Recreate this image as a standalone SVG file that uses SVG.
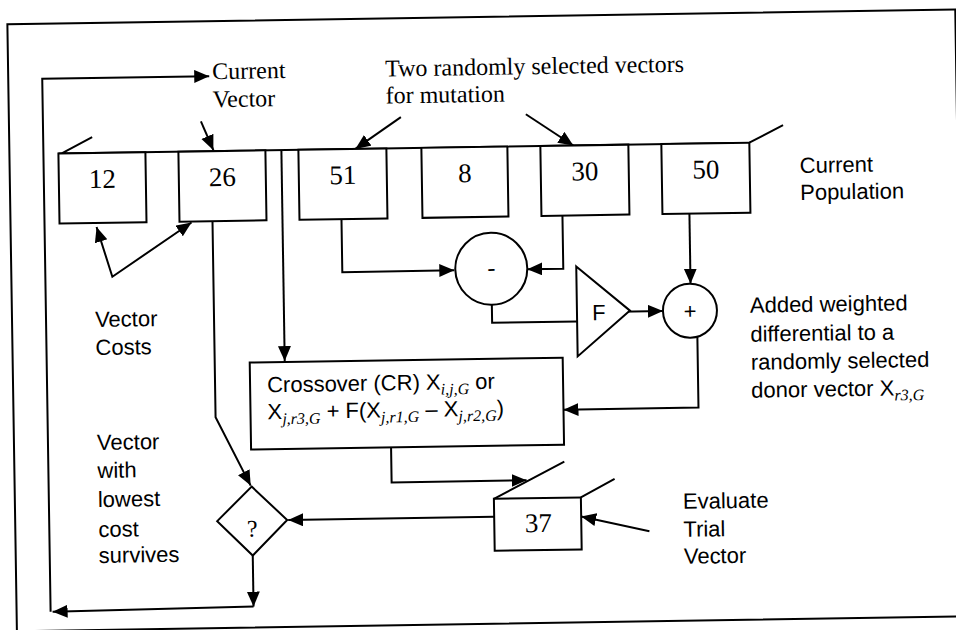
<svg xmlns="http://www.w3.org/2000/svg" width="956" height="630" viewBox="0 0 956 630">
<defs>
<marker id="ah" markerUnits="userSpaceOnUse" markerWidth="16" markerHeight="14" refX="15" refY="6.5" orient="auto-start-reverse"><path d="M0,0 L15,6.5 L0,13 z" fill="#000"/></marker>
</defs>
<style>
.ln{fill:none;stroke:#000;stroke-width:2}
.ar{fill:none;stroke:#000;stroke-width:2;marker-end:url(#ah)}
.bx{fill:#fff;stroke:#000;stroke-width:2}
.serif{font-family:"Liberation Serif","Times New Roman",serif;font-size:24px;fill:#000}
.sans{font-family:"Liberation Sans",Arial,sans-serif;font-size:22px;fill:#000}
.num{font-family:"Liberation Serif","Times New Roman",serif;font-size:27px;text-anchor:middle;fill:#000}
.sub{font-family:"Liberation Serif","Times New Roman",serif;font-style:italic;font-size:16px}
</style>
<rect width="956" height="630" fill="#fff"/>
<g transform="rotate(-0.9 478 315)">
<rect id="frame" x="12" y="17" width="948" height="607" class="ln"/>

<g id="connectors">
<path class="ar" d="M249,552 V603"/>
<path class="ar" d="M249,603 L48,605"/>
<path class="ar" d="M46,605 V72 H213"/>
<path class="ar" d="M204,117 L216,146"/>
<path class="ar" d="M404,116 L358,147"/>
<path class="ar" d="M529,115 L576,147"/>
<path class="ar" d="M193,218 L113,271 L98,221" style="marker-start:url(#ah)"/>
<path class="ar" d="M214,217 V413 L248,482"/>
<path class="ar" d="M284,147 V358"/>
<path class="ar" d="M343,217 V270 H455"/>
<path class="ar" d="M564,217 V270 H528"/>
<path class="ln" d="M492,305 V323 H577"/>
<path class="ar" d="M619,314 H663"/>
<path class="ar" d="M691,217 V287"/>
<path class="ar" d="M697,340 V411 H562"/>
<path class="ar" d="M389,446 V481 H524"/>
<path class="ar" d="M646,534 L578,518"/>
<path class="ar" d="M491,517 H285"/>
</g>

<g id="population">
<path class="ln" d="M61,147 H752 M62,148 L95,131 M752,147 L786,130"/>
<text class="sans" x="802" y="178">Current</text>
<text class="sans" x="802" y="205">Population</text>
</g>
<g id="v12"><rect class="bx" x="61" y="147" width="87" height="70"/><text class="num" x="104.5" y="182">12</text></g>
<g id="v26"><rect class="bx" x="181" y="147" width="87" height="70"/><text class="num" x="224.5" y="182">26</text></g>
<g id="v51"><rect class="bx" x="301" y="147" width="88" height="70"/><text class="num" x="345" y="182">51</text></g>
<g id="v8"><rect class="bx" x="424" y="147" width="86" height="70"/><text class="num" x="467" y="182">8</text></g>
<g id="v30"><rect class="bx" x="543" y="147" width="88" height="70"/><text class="num" x="587" y="182">30</text></g>
<g id="v50"><rect class="bx" x="664" y="147" width="88" height="70"/><text class="num" x="708" y="182">50</text></g>

<g id="minus"><circle class="bx" cx="492" cy="269" r="36"/><text class="serif" x="492" y="276" text-anchor="middle">-</text></g>
<g id="gain"><polygon class="bx" points="577,268 630,313 577,358"/><text class="sans" x="599" y="322" text-anchor="middle" font-size="24">F</text></g>
<g id="plus"><circle class="bx" cx="690" cy="314" r="27"/><text class="sans" x="690" y="322" text-anchor="middle" font-size="24">+</text></g>

<g id="crossover"><rect class="bx" x="249" y="359" width="313" height="87"/>
<text class="sans" x="266" y="389">Crossover (CR) X<tspan class="sub" dy="5">i,j,G</tspan><tspan dy="-5"> or</tspan></text>
<text class="sans" x="266" y="416">X<tspan class="sub" dy="5">j,r3,G</tspan><tspan dy="-5"> + F(X</tspan><tspan class="sub" dy="5">j,r1,G</tspan><tspan dy="-5"> – X</tspan><tspan class="sub" dy="5">j,r2,G</tspan><tspan dy="-5">)</tspan></text>
</g>

<g id="select"><polygon class="bx" points="249,483 284,517 249,552 214,517"/><text class="serif" x="249" y="533" text-anchor="middle">?</text></g>

<g id="trial"><rect class="bx" x="491" y="499" width="87" height="52"/><path class="ln" d="M491,499 L562,463 M578,499 L612,481"/><text class="num" x="535" y="533">37</text></g>

<g id="labels">
<text class="serif" x="216" y="75">Current</text>
<text class="serif" x="216" y="103">Vector</text>
<text class="serif" x="389" y="75">Two randomly selected vectors</text>
<text class="serif" x="389" y="102">for mutation</text>
<text class="sans" x="95" y="321">Vector</text>
<text class="sans" x="95" y="349">Costs</text>
<text class="sans" x="95" y="444">Vector</text>
<text class="sans" x="95" y="472">with</text>
<text class="sans" x="95" y="501">lowest</text>
<text class="sans" x="95" y="531">cost</text>
<text class="sans" x="95" y="557">survives</text>
<text class="sans" x="750" y="317">Added weighted</text>
<text class="sans" x="750" y="346">differential to a</text>
<text class="sans" x="750" y="374">randomly selected</text>
<text class="sans" x="750" y="402">donor vector X<tspan class="sub" dy="5">r3,G</tspan></text>
<text class="sans" x="680" y="512">Evaluate</text>
<text class="sans" x="680" y="540">Trial</text>
<text class="sans" x="680" y="567">Vector</text>
</g>
</g>
</svg>
